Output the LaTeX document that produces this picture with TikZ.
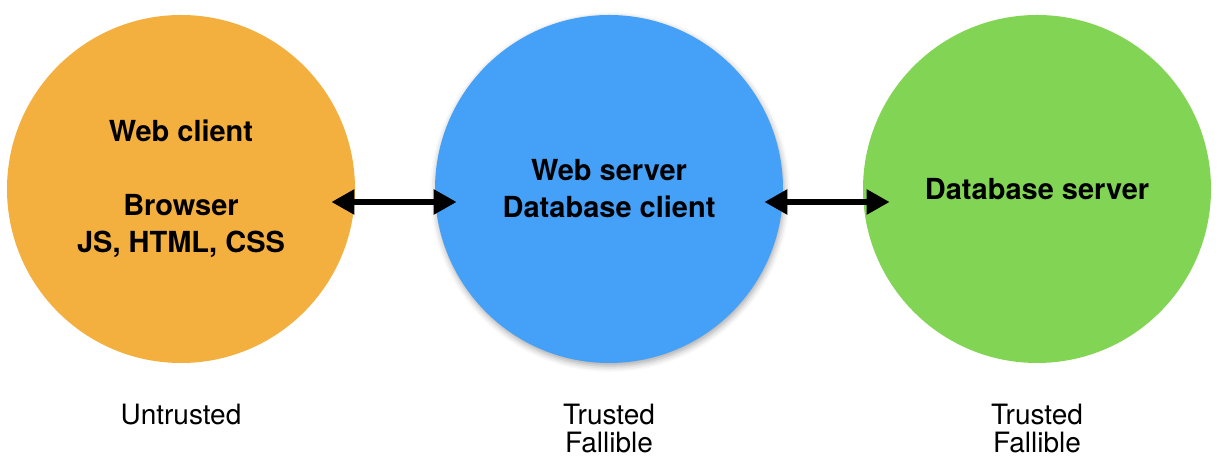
\documentclass[tikz,border=0pt]{standalone}
\usepackage{fontspec}
\setmainfont{TeX Gyre Heros}
\usetikzlibrary{arrows.meta,shadows.blur}
\definecolor{clientorange}{HTML}{F3B03F}
\definecolor{serverblue}{HTML}{45A0F8}
\definecolor{dbgreen}{HTML}{82D454}
\begin{document}
\begin{tikzpicture}[x=0.5pt,y=0.5pt,
  tier/.style={circle,inner sep=0pt,minimum size=174pt,align=center,
    font=\bfseries\fontsize{14.5}{18.5}\selectfont},
  trust/.style={align=center,font=\fontsize{14}{14}\selectfont},
  link/.style={{Triangle[length=11.5pt,width=12pt]}-{Triangle[length=11.5pt,width=12pt]},
    line width=2.8pt}]
\useasboundingbox (0,0) rectangle (1220,474);
% The three tiers
\node[tier,fill=clientorange] (client) at (181,285) {Web client\\[18.5pt]Browser\\JS, HTML, CSS};
\node[tier,fill=serverblue,blur shadow={shadow xshift=0.5pt,shadow yshift=-1.5pt,shadow blur radius=3pt,shadow opacity=35}] (server) at (609,285) {Web server\\Database client};
\node[tier,fill=dbgreen] (db) at (1037,285) {Database server};
% Connections between the tiers
\draw[link,shorten <=-12pt,shorten >=-11pt] ([yshift=-6.5pt]client.east) -- ([yshift=-6.5pt]server.west);
\draw[link,shorten <=-9.5pt,shorten >=-13.5pt] ([yshift=-6.5pt]server.east) -- ([yshift=-6.5pt]db.west);
% Trust levels
\node[trust] (clienttrust) at (181,59) {Untrusted};
\node[trust] (servertrust) at (609,45) {Trusted\\Fallible};
\node[trust] (dbtrust) at (1037,45) {Trusted\\Fallible};
\end{tikzpicture}
\end{document}
